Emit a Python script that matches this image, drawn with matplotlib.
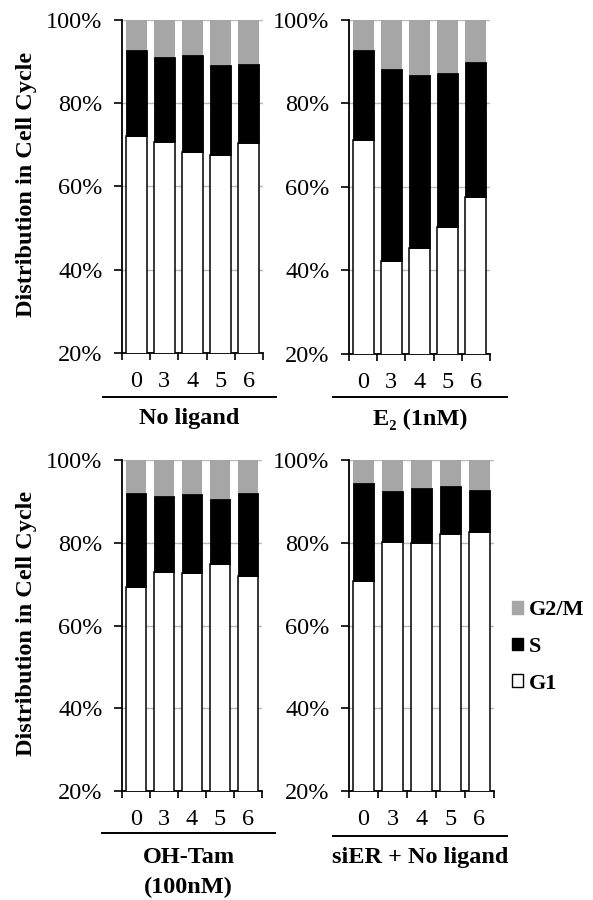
import matplotlib
matplotlib.use("Agg")
import matplotlib.pyplot as plt
from matplotlib.patches import Patch
from matplotlib.lines import Line2D

plt.rcParams['font.family'] = ['Liberation Serif', 'DejaVu Serif']

# ore dopo il trattamento
hours = ['0', '3', '4', '5', '6']

# percentuali per fase (G1, S, G2/M) in ogni condizione
g1_noligand = [72.2, 70.8, 68.2, 67.6, 70.4]
s_noligand = [20.6, 20.3, 23.3, 21.7, 19.1]
g2m_noligand = [7.2, 8.9, 8.5, 10.7, 10.5]

g1_e2 = [71.3, 42.3, 45.3, 50.5, 57.7]
s_e2 = [21.5, 45.9, 41.6, 36.7, 32.2]
g2m_e2 = [7.2, 11.8, 13.1, 12.8, 10.1]

g1_tam = [69.3, 72.9, 72.6, 74.9, 72.0]
s_tam = [22.7, 18.3, 19.1, 15.7, 20.0]
g2m_tam = [8.0, 8.8, 8.3, 9.4, 8.0]

g1_sier = [70.8, 80.3, 79.9, 82.0, 82.5]
s_sier = [23.6, 12.3, 13.3, 11.6, 10.3]
g2m_sier = [5.6, 7.4, 6.8, 6.4, 7.2]

group_labels = ['No ligand', 'E\u2082 (1nM)', 'OH-Tam\n(100nM)', 'siER + No ligand']

W, H = 593, 900
fig = plt.figure(figsize=(W / 100, H / 100), dpi=100)

# posizioni dei pannelli in pixel: sinistra, alto, larghezza, altezza
panels = [
    (122, 20, 141, 333, g1_noligand, s_noligand, g2m_noligand),
    (349, 20, 141, 334, g1_e2, s_e2, g2m_e2),
    (122, 460, 140, 331, g1_tam, s_tam, g2m_tam),
    (349, 460, 145, 331, g1_sier, s_sier, g2m_sier),
]
# linea sotto le etichette delle ore: x0, x1, y  e posizione del titolo del gruppo
group_lines = [(103, 276, 397, 419), (333, 507, 397, 419),
               (102, 275, 833, 873), (333, 507, 836, 858)]

gray = '#a6a6a6'
grid_color = '#a9bccb'
x = list(range(len(hours)))

for i, (l, t, w, h, g1, s, g2m) in enumerate(panels):
    ax = fig.add_axes([l / W, 1 - (t + h) / H, w / W, h / H])
    ax.set_xlim(-0.5, 4.5)
    ax.set_ylim(20, 100)

    bottom_s = [a for a in g1]
    bottom_g2 = [a + b for a, b in zip(g1, s)]
    ax.bar(x, g1, width=0.74, color='white', edgecolor='black', linewidth=1.1, zorder=3)
    ax.bar(x, s, width=0.74, bottom=bottom_s, color='black', edgecolor='black', linewidth=0.6, zorder=3)
    ax.bar(x, g2m, width=0.74, bottom=bottom_g2, color=gray, edgecolor=gray, linewidth=0, zorder=3)

    # griglia orizzontale
    for yv in [40, 60, 80, 100]:
        ax.axhline(yv, color=grid_color, linewidth=1, zorder=1)

    for side in ['top', 'right']:
        ax.spines[side].set_visible(False)
    ax.spines['left'].set_linewidth(1.3)
    ax.spines['bottom'].set_linewidth(1.3)

    ax.set_yticks([20, 40, 60, 80, 100])
    ax.set_yticklabels(['20%', '40%', '60%', '80%', '100%'], fontsize=17.5)
    ax.tick_params(axis='y', direction='out', length=6, width=1.2, pad=8)

    # tacche sui confini delle categorie, etichette al centro
    ax.set_xticks([-0.5, 0.5, 1.5, 2.5, 3.5, 4.5])
    ax.set_xticklabels([])
    ax.set_xticks(x, minor=True)
    ax.set_xticklabels(hours, minor=True, fontsize=17.5)
    ax.tick_params(axis='x', which='major', direction='out', length=5, width=1.2)
    ax.tick_params(axis='x', which='minor', length=0, pad=13)

    x0, x1, yl, yt = group_lines[i]
    fig.add_artist(Line2D([x0 / W, x1 / W], [1 - yl / H, 1 - yl / H], color='black', linewidth=1.4))
    fig.text((x0 + x1) / 2 / W, 1 - yt / H, group_labels[i], ha='center', va='center',
             fontsize=17.5, fontweight='bold', linespacing=1.55)

    if i == 3:
        handles = [Patch(facecolor=gray, edgecolor=gray, label='G2/M'),
                   Patch(facecolor='black', edgecolor='black', label='S'),
                   Patch(facecolor='white', edgecolor='black', label='G1')]
        fig.legend(handles=handles, loc='center left', bbox_to_anchor=(512 / W, 1 - 647 / H),
                   frameon=False, prop={'weight': 'bold', 'size': 16},
                   handlelength=0.5, handleheight=0.5, handletextpad=0.25,
                   labelspacing=0.75, borderpad=0, borderaxespad=0)

# etichette asse y
fig.text(27 / W, 1 - 184 / H, 'Distribution in Cell Cycle', rotation=90, ha='center', va='center',
         fontsize=17.5, fontweight='bold')
fig.text(27 / W, 1 - 623 / H, 'Distribution in Cell Cycle', rotation=90, ha='center', va='center',
         fontsize=17.5, fontweight='bold')

fig.savefig('out.png', dpi=100)
